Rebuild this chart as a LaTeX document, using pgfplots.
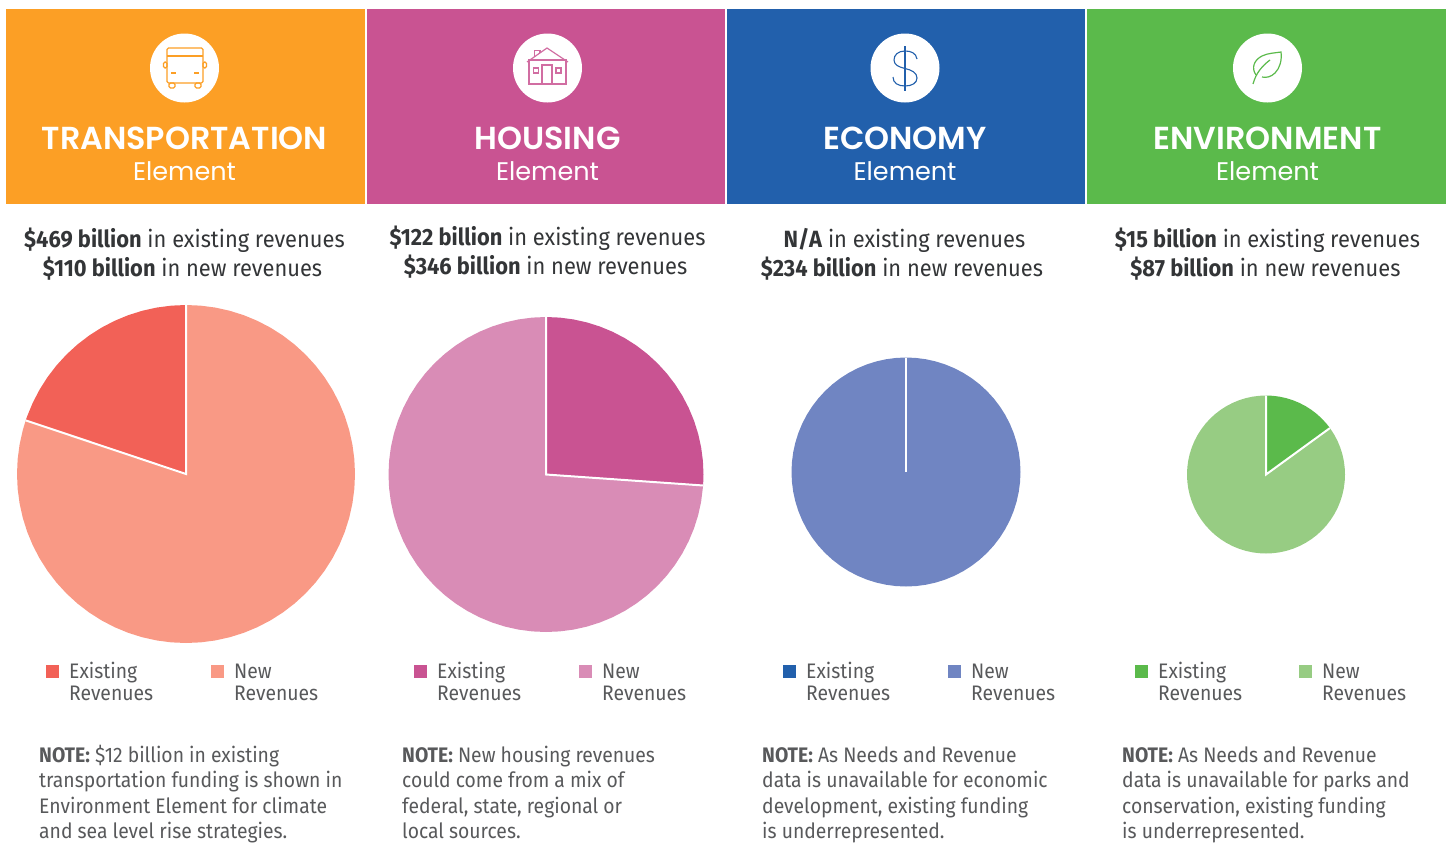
\documentclass[border=0pt]{standalone}
\usepackage{pgfplots}
\pgfplotsset{compat=1.18}
\usepackage{fontspec}
\setmainfont{Fira Sans}[Scale=1]
\newfontfamily\headfont{Poppins}
\newfontfamily\headbold{Poppins SemiBold}
\newfontfamily\bodyfont{Fira Sans}[FakeStretch=0.93]
\newfontfamily\legfont{Fira Sans}[FakeStretch=0.92]
\newfontfamily\notefont{Fira Sans}[FakeStretch=0.92]
\definecolor{cO}{HTML}{FC9F25}
\definecolor{cM}{HTML}{C95392}
\definecolor{cB}{HTML}{2260AC}
\definecolor{cG}{HTML}{5BBA4B}
\definecolor{tA}{HTML}{F26157}
\definecolor{tB}{HTML}{F99985}
\definecolor{hB}{HTML}{D98CB6}
\definecolor{eB}{HTML}{7085C2}
\definecolor{gB}{HTML}{97CC83}
\definecolor{txt}{HTML}{333537}
\definecolor{txl}{HTML}{58595B}
\pgfplotsset{pie/.style={hide axis,scale only axis,clip=false,anchor=center,
  xmin=-1,xmax=1,ymin=-1,ymax=1,data cs=polar}}
\newcommand\headpanel[5]{%
  \fill[#1] (#2,9) rectangle (#3,204);
  \fill[white] (#4,68) circle (34.5);
  \node[anchor=base,text=white,font=\headbold\fontsize{31.8}{32}\selectfont,inner sep=0] at (#4,149.5) {#5};
  \node[anchor=base,text=white,font=\headfont\fontsize{25.5}{26}\selectfont,inner sep=0] at (#4,180) {Element};
}
\newcommand\twolines[6]{%
  \node[anchor=base,inner sep=0,text=txt,font=\bodyfont\fontsize{23.5}{24}\selectfont] at (#1,#2) {#5};
  \node[anchor=base,inner sep=0,text=txt,font=\bodyfont\fontsize{23.5}{24}\selectfont] at (#3,#4) {#6};
}
\newcommand\legendpair[6]{%
  \fill[#3] (#1,665) rectangle ++(12.5,12.5);
  \fill[#4] (#2,665) rectangle ++(12.5,12.5);
  \node[anchor=base west,inner sep=0,text=txl,font=\legfont\fontsize{21}{22}\selectfont] at (#5,678) {Existing};
  \node[anchor=base west,inner sep=0,text=txl,font=\legfont\fontsize{21}{22}\selectfont] at (#5,700) {Revenues};
  \node[anchor=base west,inner sep=0,text=txl,font=\legfont\fontsize{21}{22}\selectfont] at (#6,678) {New};
  \node[anchor=base west,inner sep=0,text=txl,font=\legfont\fontsize{21}{22}\selectfont] at (#6,700) {Revenues};
}
\newcommand\notelines[5]{%
  \node[anchor=base west,inner sep=0,text=txl,font=\notefont\fontsize{21}{22}\selectfont] at (#1,762) {#2};
  \node[anchor=base west,inner sep=0,text=txl,font=\notefont\fontsize{21}{22}\selectfont] at (#1,787) {#3};
  \node[anchor=base west,inner sep=0,text=txl,font=\notefont\fontsize{21}{22}\selectfont] at (#1,813) {#4};
  \node[anchor=base west,inner sep=0,text=txl,font=\notefont\fontsize{21}{22}\selectfont] at (#1,838) {#5};
}
\begin{document}
\begin{tikzpicture}
\useasboundingbox (0pt,0pt) rectangle (1449pt,-844pt);
\begin{scope}[x=1pt,y=-1pt]
\headpanel{cO}{6}{365}{184.5}{TRANSPORTATION}
\headpanel{cM}{367}{725}{547.5}{HOUSING}
\headpanel{cB}{727}{1085}{905}{ECONOMY}
\headpanel{cG}{1087}{1446}{1267.5}{ENVIRONMENT}
% bus icon
\begin{scope}[draw=cO,line width=1.2pt,rounded corners=1.5pt]
\draw (167,48) rectangle (203,83);
\draw (167,56) -- (203,56);
\draw (167,62) rectangle (163.5,68);
\draw (203,62) rectangle (206.5,68);
\draw (169,83) rectangle (175,88);
\draw (195,83) rectangle (201,88);
\draw (171,73) -- (176,73);
\draw (194,73) -- (199,73);
\end{scope}
% house icon
\begin{scope}[draw=cM!85!white,line width=1.2pt]
\draw (529,60) rectangle (566,84);
\draw (527,62) -- (547,48) -- (568,62);
\draw (534.5,56) -- (534.5,50.5) -- (540,50.5) -- (540,53);
\draw (542,84) -- (542,65) -- (552,65) -- (552,84);
\draw (533.5,68) rectangle (538.5,73);
\draw (556,68) rectangle (561,73);
\end{scope}
% dollar icon
\draw[cB,line width=1.1pt] (905,46) -- (905,91);
\draw[cB,line width=1.1pt] (917,59) .. controls (916,53) and (911,51) .. (905,51)
  .. controls (898,51) and (894,55) .. (894,60)
  .. controls (894,65) and (899,67) .. (905,68.5)
  .. controls (912,70) and (917,73) .. (917,78)
  .. controls (917,83) and (912,86) .. (905,86)
  .. controls (898,86) and (893,83) .. (893,77);
% leaf icon
\draw[cG,line width=1.2pt] (1253,84) .. controls (1256,73) and (1262,66) .. (1270,60);
\draw[cG,line width=1.2pt] (1256,75) .. controls (1251,68) and (1254,60) .. (1262,56)
  .. controls (1268,53) and (1275,53) .. (1281,52)
  .. controls (1282,60) and (1280,68) .. (1275,73)
  .. controls (1271,77) and (1266,78) .. (1262,77);
% headline text
\twolines{184.5}{247}{182.5}{276}{\textbf{\$469 billion} in existing revenues}{\textbf{\$110 billion} in new revenues}
\twolines{547.5}{245}{545.5}{274}{\textbf{\$122 billion} in existing revenues}{\textbf{\$346 billion} in new revenues}
\twolines{904.5}{247}{902}{276}{\textbf{N/A} in existing revenues}{\textbf{\$234 billion} in new revenues}
\twolines{1267.5}{247}{1265.5}{276}{\textbf{\$15 billion} in existing revenues}{\textbf{\$87 billion} in new revenues}
% legends
\legendpair{46}{211}{tA}{tB}{69}{234}
\legendpair{414}{579}{cM}{hB}{437}{602}
\legendpair{783}{948}{cB}{eB}{806}{971}
\legendpair{1135}{1299}{cG}{gB}{1158}{1322}
% notes
\notelines{39}{\textbf{NOTE:} \$12 billion in existing}{transportation funding is shown in}{Environment Element for climate}{and sea level rise strategies.}
\notelines{402}{\textbf{NOTE:} New housing revenues}{could come from a mix of}{federal, state, regional or}{local sources.}
\notelines{762}{\textbf{NOTE:} As Needs and Revenue}{data is unavailable for economic}{development, existing funding}{is underrepresented.}
\notelines{1122}{\textbf{NOTE:} As Needs and Revenue}{data is unavailable for parks and}{conservation, existing funding}{is underrepresented.}
\end{scope}
% Transportation pie
\begin{axis}[pie,at={(186pt,-474pt)},width=338pt,height=338pt]
\addplot[fill=tB,draw=none] coordinates {(0,0)(161.5,1)(165,1)(170,1)(175,1)(180,1)(185,1)(190,1)(195,1)(200,1)(205,1)(210,1)(215,1)(220,1)(225,1)(230,1)(235,1)(240,1)(245,1)(250,1)(255,1)(260,1)(265,1)(270,1)(275,1)(280,1)(285,1)(290,1)(295,1)(300,1)(305,1)(310,1)(315,1)(320,1)(325,1)(330,1)(335,1)(340,1)(345,1)(350,1)(355,1)(360,1)(5,1)(10,1)(15,1)(20,1)(25,1)(30,1)(35,1)(40,1)(45,1)(50,1)(55,1)(60,1)(65,1)(70,1)(75,1)(80,1)(85,1)(90,1)} -- cycle;
\addplot[fill=tA,draw=none] coordinates {(0,0)(90,1)(95,1)(100,1)(105,1)(110,1)(115,1)(120,1)(125,1)(130,1)(135,1)(140,1)(145,1)(150,1)(155,1)(160,1)(161.5,1)} -- cycle;
\addplot[white,line width=2pt] coordinates {(161.5,1)(0,0)(90,1)};
\end{axis}
% Housing pie
\begin{axis}[pie,at={(546pt,-474.5pt)},width=315pt,height=315pt]
\addplot[fill=hB,draw=none] coordinates {(0,0)(356,1)(350,1)(345,1)(340,1)(335,1)(330,1)(325,1)(320,1)(315,1)(310,1)(305,1)(300,1)(295,1)(290,1)(285,1)(280,1)(275,1)(270,1)(265,1)(260,1)(255,1)(250,1)(245,1)(240,1)(235,1)(230,1)(225,1)(220,1)(215,1)(210,1)(205,1)(200,1)(195,1)(190,1)(185,1)(180,1)(175,1)(170,1)(165,1)(160,1)(155,1)(150,1)(145,1)(140,1)(135,1)(130,1)(125,1)(120,1)(115,1)(110,1)(105,1)(100,1)(95,1)(90,1)} -- cycle;
\addplot[fill=cM,draw=none] coordinates {(0,0)(90,1)(85,1)(80,1)(75,1)(70,1)(65,1)(60,1)(55,1)(50,1)(45,1)(40,1)(35,1)(30,1)(25,1)(20,1)(15,1)(10,1)(5,1)(0,1)(356,1)} -- cycle;
\addplot[white,line width=2pt] coordinates {(356,1)(0,0)(90,1)};
\end{axis}
% Economy pie
\begin{axis}[pie,at={(906pt,-472pt)},width=229pt,height=229pt]
\addplot[fill=eB,draw=none] coordinates {(90,1)(95,1)(100,1)(105,1)(110,1)(115,1)(120,1)(125,1)(130,1)(135,1)(140,1)(145,1)(150,1)(155,1)(160,1)(165,1)(170,1)(175,1)(180,1)(185,1)(190,1)(195,1)(200,1)(205,1)(210,1)(215,1)(220,1)(225,1)(230,1)(235,1)(240,1)(245,1)(250,1)(255,1)(260,1)(265,1)(270,1)(275,1)(280,1)(285,1)(290,1)(295,1)(300,1)(305,1)(310,1)(315,1)(320,1)(325,1)(330,1)(335,1)(340,1)(345,1)(350,1)(355,1)(360,1)(5,1)(10,1)(15,1)(20,1)(25,1)(30,1)(35,1)(40,1)(45,1)(50,1)(55,1)(60,1)(65,1)(70,1)(75,1)(80,1)(85,1)(90,1)} -- cycle;
\addplot[white,line width=2pt] coordinates {(0,0)(90,1)};
\end{axis}
% Environment pie
\begin{axis}[pie,at={(1266pt,-474.5pt)},width=158pt,height=158pt]
\addplot[fill=gB,draw=none] coordinates {(0,0)(90,1)(95,1)(100,1)(105,1)(110,1)(115,1)(120,1)(125,1)(130,1)(135,1)(140,1)(145,1)(150,1)(155,1)(160,1)(165,1)(170,1)(175,1)(180,1)(185,1)(190,1)(195,1)(200,1)(205,1)(210,1)(215,1)(220,1)(225,1)(230,1)(235,1)(240,1)(245,1)(250,1)(255,1)(260,1)(265,1)(270,1)(275,1)(280,1)(285,1)(290,1)(295,1)(300,1)(305,1)(310,1)(315,1)(320,1)(325,1)(330,1)(335,1)(340,1)(345,1)(350,1)(355,1)(360,1)(5,1)(10,1)(15,1)(20,1)(25,1)(30,1)(35,1)(36,1)} -- cycle;
\addplot[fill=cG,draw=none] coordinates {(0,0)(36,1)(40,1)(45,1)(50,1)(55,1)(60,1)(65,1)(70,1)(75,1)(80,1)(85,1)(90,1)} -- cycle;
\addplot[white,line width=2pt] coordinates {(36,1)(0,0)(90,1)};
\end{axis}
\end{tikzpicture}
\end{document}
